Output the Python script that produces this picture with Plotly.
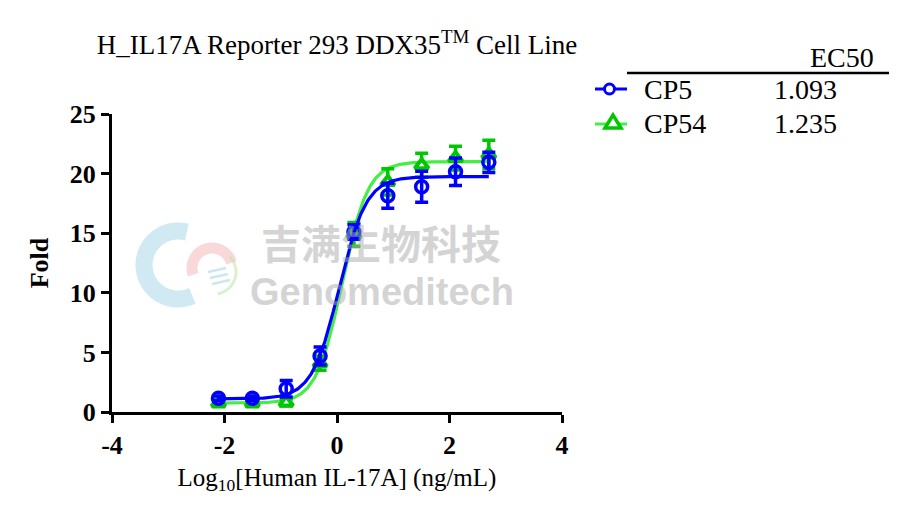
import numpy as np
import plotly.graph_objects as go

# ---- data ----
log_conc = [-2.107, -1.505, -0.903, -0.301, 0.301, 0.903, 1.505, 2.107, 2.699]
cp5_mean = [1.15, 1.15, 1.95, 4.7, 15.1, 18.15, 18.9, 20.15, 20.95]
cp5_err = [0.2, 0.2, 0.7, 0.75, 0.6, 1.05, 1.3, 1.15, 0.85]
cp54_mean = [0.75, 0.75, 0.8, 4.1, 14.9, 19.3, 20.7, 21.3, 21.6]
cp54_err = [0.3, 0.3, 0.3, 0.6, 1.0, 1.1, 1.0, 1.0, 1.2]

series_names = ["CP5", "CP54"]
ec50_labels = ["1.093", "1.235"]
# 4PL fit parameters (bottom, top, EC50 ng/mL, hill slope)
cp5_fit = [1.1, 19.75, 1.093, 1.8]
cp54_fit = [0.75, 21.0, 1.235, 1.9]

x_ticks = [-4, -2, 0, 2, 4]
y_ticks = [0, 5, 10, 15, 20, 25]

BLUE = "#0000FF"
GREEN_MK = "#00C800"
GREEN_LN = "#44EE44"
SERIF = "Liberation Serif, Times New Roman, serif"

# page pixel -> paper coords (plot area 450x298 px at page x 112, y 114)
def px(x):
    return (x - 112) / 450


def py(y):
    return (412 - y) / 298


def four_pl(x, p):
    bottom, top, ec50, hill = p
    return bottom + (top - bottom) / (1 + 10 ** ((np.log10(ec50) - x) * hill))


xs = np.linspace(min(log_conc), max(log_conc), 300)

fig = go.Figure()

# CP54 drawn first (under CP5)
fig.add_trace(go.Scatter(x=xs, y=four_pl(xs, cp54_fit), mode="lines",
                         line=dict(color=GREEN_LN, width=3.2), hoverinfo="skip"))
fig.add_trace(go.Scatter(x=log_conc, y=cp54_mean, mode="markers", name=series_names[1],
                         marker=dict(symbol="triangle-up", size=12, color="white",
                                     line=dict(color=GREEN_MK, width=4)),
                         error_y=dict(type="data", array=cp54_err, color=GREEN_MK,
                                      thickness=3.5, width=6.5)))
fig.add_trace(go.Scatter(x=xs, y=four_pl(xs, cp5_fit), mode="lines",
                         line=dict(color=BLUE, width=3.2), hoverinfo="skip"))
fig.add_trace(go.Scatter(x=log_conc, y=cp5_mean, mode="markers", name=series_names[0],
                         marker=dict(symbol="circle", size=12, color="rgba(0,0,0,0)",
                                     line=dict(color=BLUE, width=3.5)),
                         error_y=dict(type="data", array=cp5_err, color=BLUE,
                                      thickness=3.5, width=6.5)))

axis_common = dict(showline=True, linecolor="black", linewidth=3, ticks="outside",
                   ticklen=8, tickwidth=3, tickcolor="black", showgrid=False,
                   zeroline=False, tickfont=dict(family=SERIF, size=26, color="black",
                                                 weight="bold"))

fig.update_layout(
    width=903, height=511,
    margin=dict(l=104, r=349, t=106, b=107),
    plot_bgcolor="white", paper_bgcolor="white",
    showlegend=False,
    font=dict(family=SERIF, color="black"),
    title=dict(text="H_IL17A Reporter 293 DDX35<sup>TM</sup> Cell Line",
               x=0.5, xref="paper", xanchor="center",
               y=1 - 37 / 511, yref="container", yanchor="middle",
               font=dict(family=SERIF, size=27, color="black")),
    xaxis=dict(range=[-4, 4], tickvals=x_ticks, ticktext=[str(v) for v in x_ticks],
               title=dict(text="Log<sub>10</sub>[Human IL-17A] (ng/mL)",
                          font=dict(family=SERIF, size=25, color="black"), standoff=10),
               **axis_common),
    yaxis=dict(range=[0, 25], tickvals=y_ticks,
               title=dict(text="Fold", font=dict(family=SERIF, size=26, color="black",
                                                  weight="bold"), standoff=14),
               **axis_common),
)

# ---- legend table (symbols, names, EC50 values) ----
fig.add_annotation(text="EC50", xref="paper", yref="paper", x=px(876), y=py(57),
                   xanchor="right", yanchor="middle", showarrow=False,
                   font=dict(family=SERIF, size=28, color="black"))
fig.add_shape(type="line", xref="paper", yref="paper", x0=px(627), x1=px(889),
              y0=py(73), y1=py(73), line=dict(color="black", width=2.5))

row_y = [89, 124]
# CP5 symbol
fig.add_shape(type="line", xref="paper", yref="paper", x0=px(595), x1=px(627),
              y0=py(row_y[0]), y1=py(row_y[0]), line=dict(color=BLUE, width=3))
fig.add_shape(type="circle", xref="paper", yref="paper", x0=px(604.5), x1=px(614.5),
              y0=py(row_y[0] - 5), y1=py(row_y[0] + 5),
              line=dict(color=BLUE, width=3), fillcolor="white")
# CP54 symbol
fig.add_shape(type="line", xref="paper", yref="paper", x0=px(595), x1=px(627),
              y0=py(row_y[1]), y1=py(row_y[1]), line=dict(color=GREEN_LN, width=3))
tri = [(613, row_y[1] - 9), (605, row_y[1] + 4), (621, row_y[1] + 4)]
tri_path = "M {} {} L {} {} L {} {} Z".format(*[v for p in tri for v in (px(p[0]), py(p[1]))])
fig.add_shape(type="path", xref="paper", yref="paper", path=tri_path,
              line=dict(color=GREEN_MK, width=3.5), fillcolor="white")

for name, val, yy in zip(series_names, ec50_labels, row_y):
    fig.add_annotation(text=name, xref="paper", yref="paper", x=px(642), y=py(yy),
                       xanchor="left", yanchor="middle", showarrow=False,
                       font=dict(family=SERIF, size=28, color="black"))
    fig.add_annotation(text=val, xref="paper", yref="paper", x=px(772), y=py(yy),
                       xanchor="left", yanchor="middle", showarrow=False,
                       font=dict(family=SERIF, size=28, color="black"))

# ---- watermark ----
def arc_path(cx, cy, r, a0, a1, n=40):
    ang = np.radians(np.linspace(a0, a1, n))
    pts = [(px(cx + r * np.cos(a)), py(cy - r * np.sin(a))) for a in ang]
    return "M " + " L ".join("{:.4f} {:.4f}".format(x, y) for x, y in pts)


fig.add_shape(type="path", xref="paper", yref="paper", layer="below",
              path=arc_path(178, 265, 34, 75, 295), line=dict(color="rgba(170,215,232,0.55)", width=17))
fig.add_shape(type="path", xref="paper", yref="paper", layer="below",
              path=arc_path(212, 268, 20, 15, 200), line=dict(color="rgba(242,178,178,0.5)", width=11))
fig.add_shape(type="path", xref="paper", yref="paper", layer="below",
              path=arc_path(214, 272, 22, -80, 45), line=dict(color="rgba(195,230,175,0.6)", width=3))
for k in range(3):
    fig.add_shape(type="line", xref="paper", yref="paper", layer="below",
                  x0=px(208 + 2 * k), x1=px(226 + 2 * k), y0=py(272 + 6 * k), y1=py(268 + 6 * k),
                  line=dict(color="rgba(170,215,232,0.6)", width=2.5))

fig.add_annotation(text="吉满生物科技", xref="paper", yref="paper",
                   x=px(381), y=py(242), showarrow=False,
                   font=dict(family="Noto Sans CJK SC", size=40, color="rgba(170,170,170,0.5)",
                             weight="bold"))
fig.add_annotation(text="Genomeditech", xref="paper", yref="paper",
                   x=px(382), y=py(292), showarrow=False,
                   font=dict(family="Liberation Sans", size=38, color="rgba(170,170,170,0.5)",
                             weight="bold"))

fig.write_html("out.html")
